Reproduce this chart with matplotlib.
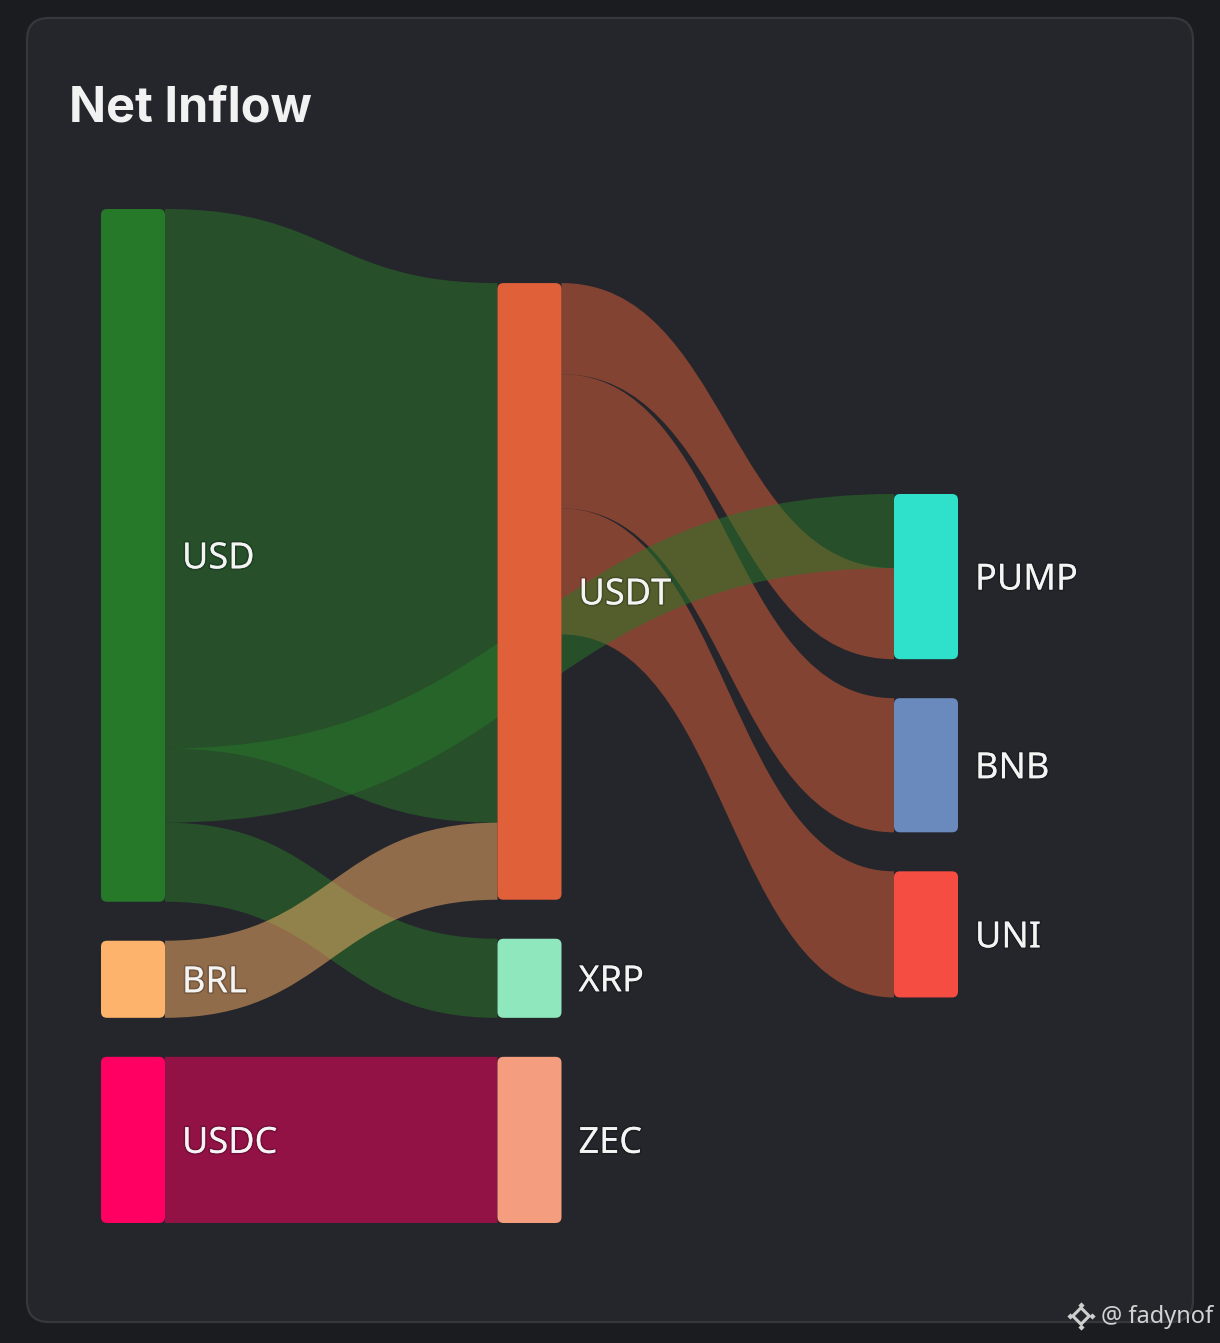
import matplotlib
matplotlib.use("Agg")
import matplotlib.pyplot as plt
from matplotlib.path import Path
from matplotlib.patches import PathPatch, FancyBboxPatch
import matplotlib.patheffects as pe

# ---------------- data ----------------
nodes = ["USD", "BRL", "USDC", "USDT", "XRP", "ZEC", "PUMP", "BNB", "UNI"]
node_column = [0, 0, 0, 1, 1, 1, 2, 2, 2]
node_colors = ["#27792a", "#fdb36b", "#ff0062", "#e0603a", "#8fe8bd",
               "#f49e7f", "#2fe0cb", "#6a89bd", "#f64d42"]

# drawing order of links (later ones on top)
link_source = ["USDT", "USDT", "USDT", "USD", "USD", "USD", "BRL", "USDC"]
link_target = ["PUMP", "BNB", "UNI", "USDT", "PUMP", "XRP", "USDT", "ZEC"]
link_value = [91, 134, 126, 539, 74, 79, 77, 166]

title = "Net Inflow"
watermark = "@ fadynof"

# ---------------- layout settings ----------------
W, H, DPI = 1220, 1343, 100
BG_OUT = "#1b1c20"
CARD = "#25262b"
CARD_EDGE = "#37383d"
extent_top, extent_bottom = 209, 1223
x_left, node_w, col_step = 101, 64, 396.5
node_pad = 39
col_align = {0: "top", 1: "bottom", 2: 494}
link_alpha = 0.5

fig = plt.figure(figsize=(W / DPI, H / DPI), dpi=DPI)
fig.patch.set_facecolor(BG_OUT)
ax = fig.add_axes([0, 0, 1, 1])
ax.set_xlim(0, W)
ax.set_ylim(H, 0)
ax.axis("off")

# card
card = FancyBboxPatch((27, 18), 1166, 1304,
                      boxstyle="round,pad=0,rounding_size=22",
                      facecolor=CARD, edgecolor=CARD_EDGE, linewidth=1.6, zorder=0)
ax.add_patch(card)

# ---------------- sankey layout ----------------
idx = {n: i for i, n in enumerate(nodes)}
n_in = [0.0] * len(nodes)
n_out = [0.0] * len(nodes)
for s, t, v in zip(link_source, link_target, link_value):
    n_out[idx[s]] += v
    n_in[idx[t]] += v
node_val = [max(a, b) for a, b in zip(n_in, n_out)]

ncols = max(node_column) + 1
cols = [[i for i in range(len(nodes)) if node_column[i] == c] for c in range(ncols)]
ky = min((extent_bottom - extent_top - node_pad * (len(c) - 1)) /
         sum(node_val[i] for i in c) for c in cols)

y0 = [0.0] * len(nodes)
y1 = [0.0] * len(nodes)
x0 = [x_left + node_column[i] * col_step for i in range(len(nodes))]
x1 = [x + node_w for x in x0]
for c, members in enumerate(cols):
    total = sum(node_val[i] for i in members) * ky + node_pad * (len(members) - 1)
    a = col_align[c]
    if a == "top":
        y = extent_top
    elif a == "bottom":
        y = extent_bottom - total
    else:
        y = a
    for i in members:
        y0[i] = y
        y1[i] = y + node_val[i] * ky
        y = y1[i] + node_pad

# link offsets: outgoing sorted by target y, incoming sorted by source y
links = list(range(len(link_value)))
src_top = {}
tgt_top = {}
for n in range(len(nodes)):
    outs = sorted([l for l in links if idx[link_source[l]] == n], key=lambda l: y0[idx[link_target[l]]])
    y = y0[n]
    for l in outs:
        src_top[l] = y
        y += link_value[l] * ky
    ins = sorted([l for l in links if idx[link_target[l]] == n], key=lambda l: y0[idx[link_source[l]]])
    y = y0[n]
    for l in ins:
        tgt_top[l] = y
        y += link_value[l] * ky

# links: filled bands of constant vertical thickness
for l in links:
    s, t = idx[link_source[l]], idx[link_target[l]]
    xs, xt = x1[s], x0[t]
    ys, yt = src_top[l], tgt_top[l]
    w = link_value[l] * ky
    xm = (xs + xt) / 2
    verts = [(xs, ys), (xm, ys), (xm, yt), (xt, yt),
             (xt, yt + w),
             (xm, yt + w), (xm, ys + w), (xs, ys + w),
             (xs, ys)]
    codes = [Path.MOVETO, Path.CURVE4, Path.CURVE4, Path.CURVE4,
             Path.LINETO,
             Path.CURVE4, Path.CURVE4, Path.CURVE4,
             Path.CLOSEPOLY]
    ax.add_patch(PathPatch(Path(verts, codes), facecolor=node_colors[s],
                           edgecolor="none", alpha=link_alpha, zorder=1))

# nodes
for i in range(len(nodes)):
    ax.add_patch(FancyBboxPatch((x0[i], y0[i]), node_w, y1[i] - y0[i],
                                boxstyle="round,pad=0,rounding_size=6",
                                facecolor=node_colors[i], edgecolor="none", zorder=2))
    ax.text(x1[i] + 17, (y0[i] + y1[i]) / 2 + 4, nodes[i], color="#f4f4f4",
            fontsize=26, family="Noto Sans", ha="left", va="center", zorder=4,
            path_effects=[pe.withStroke(linewidth=2.5, foreground=(0, 0, 0, 0.18))])

# title
ax.text(69, 121, title, color="#f2f2f2", fontsize=35, family="Inter",
        weight="bold", ha="left", va="baseline", zorder=4)

# watermark with small diamond logo
lx, ly = 1081, 1316
ax.scatter([lx], [ly], marker="D", s=70, facecolor="none", edgecolor="#cfcfcf",
           linewidth=2.2, zorder=5)
ax.scatter([lx - 11, lx + 11, lx, lx], [ly, ly, ly - 11, ly + 11], marker="D",
           s=10, color="#cfcfcf", zorder=5, linewidth=0)
ax.text(1101, 1317, watermark, color="#d2d2d2", fontsize=17, family="Noto Sans",
        ha="left", va="center", zorder=5)

fig.savefig("out.png", dpi=DPI, facecolor=BG_OUT)
